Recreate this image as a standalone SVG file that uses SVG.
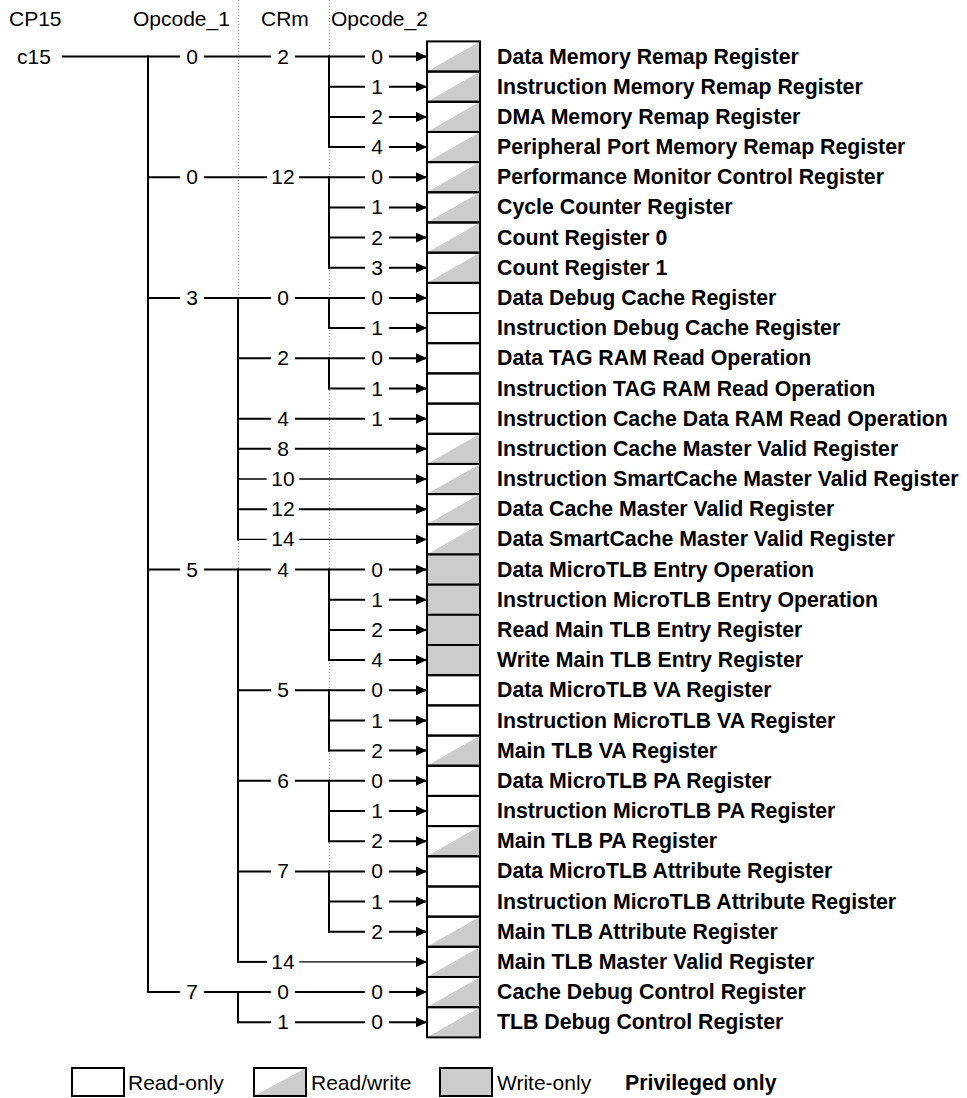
<svg xmlns="http://www.w3.org/2000/svg" xmlns:xlink="http://www.w3.org/1999/xlink" width="967" height="1098" viewBox="0 0 967 1098">
<style>
text{font-family:"Liberation Sans",Arial,Helvetica,sans-serif;font-size:21px;fill:#000}
.b{font-weight:bold;font-size:21.3px}
.n{text-anchor:middle}
.ln{fill:none;stroke:#000;stroke-width:2;stroke-linecap:square}
.thin{stroke-width:1.3}
.dot{fill:none;stroke:#a0a0a0;stroke-width:1;stroke-dasharray:1 2}
.bx{fill:none;stroke:#000;stroke-width:2}
.wo{fill:#cccccc;stroke:#000;stroke-width:2}
.g{fill:#cccccc}
</style>
<defs>
<marker id="ar" markerUnits="userSpaceOnUse" viewBox="0 0 11 10" refX="11" refY="5" markerWidth="11" markerHeight="10" orient="auto">
<path d="M0,0 L11,5 L0,10 z" fill="#000"/>
</marker>
<polygon id="tri" points="427,30.18 480,0 480,30.18" class="g"/>
</defs>
<rect width="967" height="1098" fill="#fff"/>
<g id="header">
<text x="9" y="26">CP15</text>
<text x="133" y="26">Opcode_1</text>
<text x="261" y="26">CRm</text>
<text x="331" y="26">Opcode_2</text>
<text x="17" y="63.5">c15</text>
<line class="dot" x1="238.5" y1="0" x2="238.5" y2="880"/>
<line class="dot" x1="329.5" y1="0" x2="329.5" y2="880"/>
</g>
<g id="connectors">
<path class="ln" d="M148,56.5 V992.1 M329,56.5 V147 M329,177.2 V267.8 M238,297.9 V539.4 M329,297.9 V328.1 M329,358.3 V388.5 M238,569.6 V961.9 M329,569.6 V660.1 M329,690.3 V750.6 M329,780.8 V841.2 M329,871.4 V931.7 M238,992.1 V1022.3"/>
<path class="ln" marker-end="url(#ar)" d="M63,56.5 H179 M205,56.5 H270 M296,56.5 H364 M390,56.5 H427"/>
<path class="ln" marker-end="url(#ar)" d="M329,86.7 H364 M390,86.7 H427"/>
<path class="ln" marker-end="url(#ar)" d="M329,116.9 H364 M390,116.9 H427"/>
<path class="ln" marker-end="url(#ar)" d="M329,147 H364 M390,147 H427"/>
<path class="ln" marker-end="url(#ar)" d="M148,177.2 H179 M205,177.2 H266 M300,177.2 H364 M390,177.2 H427"/>
<path class="ln" marker-end="url(#ar)" d="M329,207.4 H364 M390,207.4 H427"/>
<path class="ln" marker-end="url(#ar)" d="M329,237.6 H364 M390,237.6 H427"/>
<path class="ln" marker-end="url(#ar)" d="M329,267.8 H364 M390,267.8 H427"/>
<path class="ln" marker-end="url(#ar)" d="M148,297.9 H179 M205,297.9 H270 M296,297.9 H364 M390,297.9 H427"/>
<path class="ln" marker-end="url(#ar)" d="M329,328.1 H364 M390,328.1 H427"/>
<path class="ln" marker-end="url(#ar)" d="M238,358.3 H270 M296,358.3 H364 M390,358.3 H427"/>
<path class="ln" marker-end="url(#ar)" d="M329,388.5 H364 M390,388.5 H427"/>
<path class="ln" marker-end="url(#ar)" d="M238,418.7 H270 M296,418.7 H364 M390,418.7 H427"/>
<path class="ln" marker-end="url(#ar)" d="M238,448.8 H270 M296,448.8 H427"/>
<path class="ln thin" marker-end="url(#ar)" d="M238,479 H266 M300,479 H427"/>
<path class="ln" marker-end="url(#ar)" d="M238,509.2 H266 M300,509.2 H427"/>
<path class="ln thin" marker-end="url(#ar)" d="M238,539.4 H266 M300,539.4 H427"/>
<path class="ln" marker-end="url(#ar)" d="M148,569.6 H179 M205,569.6 H270 M296,569.6 H364 M390,569.6 H427"/>
<path class="ln" marker-end="url(#ar)" d="M329,599.7 H364 M390,599.7 H427"/>
<path class="ln" marker-end="url(#ar)" d="M329,629.9 H364 M390,629.9 H427"/>
<path class="ln" marker-end="url(#ar)" d="M329,660.1 H364 M390,660.1 H427"/>
<path class="ln" marker-end="url(#ar)" d="M238,690.3 H270 M296,690.3 H364 M390,690.3 H427"/>
<path class="ln" marker-end="url(#ar)" d="M329,720.5 H364 M390,720.5 H427"/>
<path class="ln" marker-end="url(#ar)" d="M329,750.6 H364 M390,750.6 H427"/>
<path class="ln" marker-end="url(#ar)" d="M238,780.8 H270 M296,780.8 H364 M390,780.8 H427"/>
<path class="ln" marker-end="url(#ar)" d="M329,811 H364 M390,811 H427"/>
<path class="ln" marker-end="url(#ar)" d="M329,841.2 H364 M390,841.2 H427"/>
<path class="ln" marker-end="url(#ar)" d="M238,871.4 H270 M296,871.4 H364 M390,871.4 H427"/>
<path class="ln" marker-end="url(#ar)" d="M329,901.5 H364 M390,901.5 H427"/>
<path class="ln" marker-end="url(#ar)" d="M329,931.7 H364 M390,931.7 H427"/>
<path class="ln" d="M238,961.9 H266"/>
<path class="ln thin" marker-end="url(#ar)" d="M300,961.9 H427"/>
<path class="ln" marker-end="url(#ar)" d="M148,992.1 H179 M205,992.1 H270 M296,992.1 H364 M390,992.1 H427"/>
<path class="ln" marker-end="url(#ar)" d="M238,1022.3 H270 M296,1022.3 H364 M390,1022.3 H427"/>
</g>
<g id="numbers">
<text class="n" x="192" y="63.5">0</text><text class="n" x="283" y="63.5">2</text><text class="n" x="377" y="63.5">0</text>
<text class="n" x="377" y="93.7">1</text>
<text class="n" x="377" y="123.9">2</text>
<text class="n" x="377" y="154">4</text>
<text class="n" x="192" y="184.2">0</text><text class="n" x="283" y="184.2">12</text><text class="n" x="377" y="184.2">0</text>
<text class="n" x="377" y="214.4">1</text>
<text class="n" x="377" y="244.6">2</text>
<text class="n" x="377" y="274.8">3</text>
<text class="n" x="192" y="304.9">3</text><text class="n" x="283" y="304.9">0</text><text class="n" x="377" y="304.9">0</text>
<text class="n" x="377" y="335.1">1</text>
<text class="n" x="283" y="365.3">2</text><text class="n" x="377" y="365.3">0</text>
<text class="n" x="377" y="395.5">1</text>
<text class="n" x="283" y="425.7">4</text><text class="n" x="377" y="425.7">1</text>
<text class="n" x="283" y="455.8">8</text>
<text class="n" x="283" y="486">10</text>
<text class="n" x="283" y="516.2">12</text>
<text class="n" x="283" y="546.4">14</text>
<text class="n" x="192" y="576.6">5</text><text class="n" x="283" y="576.6">4</text><text class="n" x="377" y="576.6">0</text>
<text class="n" x="377" y="606.7">1</text>
<text class="n" x="377" y="636.9">2</text>
<text class="n" x="377" y="667.1">4</text>
<text class="n" x="283" y="697.3">5</text><text class="n" x="377" y="697.3">0</text>
<text class="n" x="377" y="727.5">1</text>
<text class="n" x="377" y="757.6">2</text>
<text class="n" x="283" y="787.8">6</text><text class="n" x="377" y="787.8">0</text>
<text class="n" x="377" y="818">1</text>
<text class="n" x="377" y="848.2">2</text>
<text class="n" x="283" y="878.4">7</text><text class="n" x="377" y="878.4">0</text>
<text class="n" x="377" y="908.5">1</text>
<text class="n" x="377" y="938.7">2</text>
<text class="n" x="283" y="968.9">14</text>
<text class="n" x="192" y="999.1">7</text><text class="n" x="283" y="999.1">0</text><text class="n" x="377" y="999.1">0</text>
<text class="n" x="283" y="1029.3">1</text><text class="n" x="377" y="1029.3">0</text>
</g>
<g id="r0"><use xlink:href="#tri" y="41.4"/><rect class="bx" x="427" y="41.4" width="53" height="30.18"/><text class="b" x="497" y="63.5">Data Memory Remap Register</text></g>
<g id="r1"><use xlink:href="#tri" y="71.6"/><rect class="bx" x="427" y="71.6" width="53" height="30.18"/><text class="b" x="497" y="93.7">Instruction Memory Remap Register</text></g>
<g id="r2"><use xlink:href="#tri" y="101.8"/><rect class="bx" x="427" y="101.8" width="53" height="30.18"/><text class="b" x="497" y="123.9">DMA Memory Remap Register</text></g>
<g id="r3"><use xlink:href="#tri" y="132"/><rect class="bx" x="427" y="132" width="53" height="30.18"/><text class="b" x="497" y="154">Peripheral Port Memory Remap Register</text></g>
<g id="r4"><use xlink:href="#tri" y="162.1"/><rect class="bx" x="427" y="162.1" width="53" height="30.18"/><text class="b" x="497" y="184.2">Performance Monitor Control Register</text></g>
<g id="r5"><use xlink:href="#tri" y="192.3"/><rect class="bx" x="427" y="192.3" width="53" height="30.18"/><text class="b" x="497" y="214.4">Cycle Counter Register</text></g>
<g id="r6"><use xlink:href="#tri" y="222.5"/><rect class="bx" x="427" y="222.5" width="53" height="30.18"/><text class="b" x="497" y="244.6">Count Register 0</text></g>
<g id="r7"><use xlink:href="#tri" y="252.7"/><rect class="bx" x="427" y="252.7" width="53" height="30.18"/><text class="b" x="497" y="274.8">Count Register 1</text></g>
<g id="r8"><rect class="bx" x="427" y="282.9" width="53" height="30.18"/><text class="b" x="497" y="304.9">Data Debug Cache Register</text></g>
<g id="r9"><rect class="bx" x="427" y="313" width="53" height="30.18"/><text class="b" x="497" y="335.1">Instruction Debug Cache Register</text></g>
<g id="r10"><rect class="bx" x="427" y="343.2" width="53" height="30.18"/><text class="b" x="497" y="365.3">Data TAG RAM Read Operation</text></g>
<g id="r11"><rect class="bx" x="427" y="373.4" width="53" height="30.18"/><text class="b" x="497" y="395.5">Instruction TAG RAM Read Operation</text></g>
<g id="r12"><rect class="bx" x="427" y="403.6" width="53" height="30.18"/><text class="b" x="497" y="425.7">Instruction Cache Data RAM Read Operation</text></g>
<g id="r13"><use xlink:href="#tri" y="433.8"/><rect class="bx" x="427" y="433.8" width="53" height="30.18"/><text class="b" x="497" y="455.8">Instruction Cache Master Valid Register</text></g>
<g id="r14"><use xlink:href="#tri" y="463.9"/><rect class="bx" x="427" y="463.9" width="53" height="30.18"/><text class="b" x="497" y="486">Instruction SmartCache Master Valid Register</text></g>
<g id="r15"><use xlink:href="#tri" y="494.1"/><rect class="bx" x="427" y="494.1" width="53" height="30.18"/><text class="b" x="497" y="516.2">Data Cache Master Valid Register</text></g>
<g id="r16"><use xlink:href="#tri" y="524.3"/><rect class="bx" x="427" y="524.3" width="53" height="30.18"/><text class="b" x="497" y="546.4">Data SmartCache Master Valid Register</text></g>
<g id="r17"><rect class="wo" x="427" y="554.5" width="53" height="30.18"/><text class="b" x="497" y="576.6">Data MicroTLB Entry Operation</text></g>
<g id="r18"><rect class="wo" x="427" y="584.7" width="53" height="30.18"/><text class="b" x="497" y="606.7">Instruction MicroTLB Entry Operation</text></g>
<g id="r19"><rect class="wo" x="427" y="614.8" width="53" height="30.18"/><text class="b" x="497" y="636.9">Read Main TLB Entry Register</text></g>
<g id="r20"><rect class="wo" x="427" y="645" width="53" height="30.18"/><text class="b" x="497" y="667.1">Write Main TLB Entry Register</text></g>
<g id="r21"><rect class="bx" x="427" y="675.2" width="53" height="30.18"/><text class="b" x="497" y="697.3">Data MicroTLB VA Register</text></g>
<g id="r22"><rect class="bx" x="427" y="705.4" width="53" height="30.18"/><text class="b" x="497" y="727.5">Instruction MicroTLB VA Register</text></g>
<g id="r23"><use xlink:href="#tri" y="735.6"/><rect class="bx" x="427" y="735.6" width="53" height="30.18"/><text class="b" x="497" y="757.6">Main TLB VA Register</text></g>
<g id="r24"><rect class="bx" x="427" y="765.7" width="53" height="30.18"/><text class="b" x="497" y="787.8">Data MicroTLB PA Register</text></g>
<g id="r25"><rect class="bx" x="427" y="795.9" width="53" height="30.18"/><text class="b" x="497" y="818">Instruction MicroTLB PA Register</text></g>
<g id="r26"><use xlink:href="#tri" y="826.1"/><rect class="bx" x="427" y="826.1" width="53" height="30.18"/><text class="b" x="497" y="848.2">Main TLB PA Register</text></g>
<g id="r27"><rect class="bx" x="427" y="856.3" width="53" height="30.18"/><text class="b" x="497" y="878.4">Data MicroTLB Attribute Register</text></g>
<g id="r28"><rect class="bx" x="427" y="886.5" width="53" height="30.18"/><text class="b" x="497" y="908.5">Instruction MicroTLB Attribute Register</text></g>
<g id="r29"><use xlink:href="#tri" y="916.6"/><rect class="bx" x="427" y="916.6" width="53" height="30.18"/><text class="b" x="497" y="938.7">Main TLB Attribute Register</text></g>
<g id="r30"><use xlink:href="#tri" y="946.8"/><rect class="bx" x="427" y="946.8" width="53" height="30.18"/><text class="b" x="497" y="968.9">Main TLB Master Valid Register</text></g>
<g id="r31"><use xlink:href="#tri" y="977"/><rect class="bx" x="427" y="977" width="53" height="30.18"/><text class="b" x="497" y="999.1">Cache Debug Control Register</text></g>
<g id="r32"><use xlink:href="#tri" y="1007.2"/><rect class="bx" x="427" y="1007.2" width="53" height="30.18"/><text class="b" x="497" y="1029.3">TLB Debug Control Register</text></g>
<g id="legend">
<rect class="bx" x="72" y="1068" width="52" height="28"/>
<text x="128" y="1089.5">Read-only</text>
<polygon class="g" points="254,1096 306,1068 306,1096"/>
<rect class="bx" x="254" y="1068" width="52" height="28"/>
<text x="311" y="1089.5">Read/write</text>
<rect class="wo" x="440" y="1068" width="52" height="28"/>
<text x="497" y="1089.5">Write-only</text>
<text class="b" x="625" y="1089.5">Privileged only</text>
</g>
</svg>
